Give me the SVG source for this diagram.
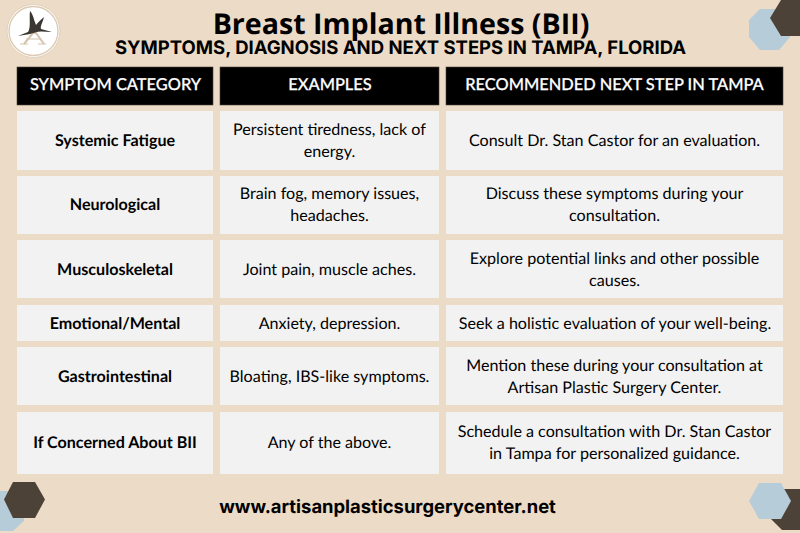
<svg xmlns="http://www.w3.org/2000/svg" width="800" height="533" viewBox="0 0 800 533">
<style>
text{text-rendering:geometricPrecision}
.t{font-family:Inter,"Liberation Sans",sans-serif;font-weight:700;fill:#000;text-anchor:middle}
.tt{font-family:"Open Sans","Liberation Sans",sans-serif;font-weight:700;font-size:28.6px;fill:#000;text-anchor:middle}
.h{font-family:Lato,"Liberation Sans",sans-serif;font-weight:500;font-size:16.4px;fill:#fff;text-anchor:middle;stroke:#fff;stroke-width:.25}
.c{font-family:Lato,"Liberation Sans",sans-serif;font-size:16.1px;fill:#000;text-anchor:middle}
.b{font-weight:700}
.hd{fill:#000;stroke:#4d4238;stroke-width:.6}
.cell{fill:#f2f2f2}
.dk{fill:#4d4238}
.bl{fill:#b6cdd9}
</style>
<rect width="800" height="533" fill="#ecdbc6"/>
<g id="decor">
<polygon class="bl" points="760,9 779,9 790,19 790,37 779,50 760,50 749,37 749,20"/>
<polygon class="dk" points="781,0 800,0 800,36 781,36 770,18"/>
<polygon class="bl" points="0,491 24,491 24,521 13,531 0,531"/>
<polygon class="dk" points="13,482 35,482 45,499.500 35,518 13,518 4,499.500"/>
<polygon class="dk" points="784,489 800,489 800,530 782,530 771,519"/>
<polygon class="bl" points="759,483 781,483 791,501 781,519 759,519 749,501"/>
</g>
<g id="logo">
<circle cx="33.500" cy="31" r="26.500" fill="#fff" stroke="#e0cfba" stroke-width="1"/>
<circle cx="33.500" cy="31" r="24.500" fill="none" stroke="#dccab2" stroke-width="1.400"/>
<path d="M24 44 L33 33 L36 33 L44 44" fill="none" stroke="#d4c3ac" stroke-width="2"/>
<path d="M26 39 L40 39 M20 44 L28 44 M38 44 L46 44" fill="none" stroke="#d4c3ac" stroke-width="1.200"/>
<path d="M30 11 C33 14 34 20 36 25 C38 22 41 20 44 17 C43 22 40 26 41 29 L52 32 L41 31.500 C37 31.500 33 33 30 34 L18 36 L28 32 C31 28 29 18 30 11Z" fill="#3a3632"/>
</g>
<g id="title">
<text class="tt" x="401" y="34">Breast Implant Illness (BII)</text>
<text class="t" x="400.500" y="54" font-size="18.500">SYMPTOMS, DIAGNOSIS AND NEXT STEPS IN TAMPA, FLORIDA</text>
</g>
<g id="header">
<rect class="hd" x="17" y="67" width="196" height="38"/>
<rect class="hd" x="220" y="67" width="219" height="38"/>
<rect class="hd" x="446" y="67" width="337" height="38"/>
<text class="h" x="115.500" y="90">SYMPTOM CATEGORY</text>
<text class="h" x="330" y="90">EXAMPLES</text>
<text class="h" x="614.500" y="90">RECOMMENDED NEXT STEP IN TAMPA</text>
</g>
<g id="row1">
<rect class="cell" x="17" y="111" width="196" height="59"/><rect class="cell" x="220" y="111" width="219" height="59"/><rect class="cell" x="446" y="111" width="337" height="59"/>
<text class="c b" x="115" y="146">Systemic Fatigue</text>
<text class="c" x="329.500" y="135">Persistent tiredness, lack of</text><text class="c" x="329.500" y="157">energy.</text>
<text class="c" x="614.500" y="146">Consult Dr. Stan Castor for an evaluation.</text>
</g>
<g id="row2">
<rect class="cell" x="17" y="176" width="196" height="58"/><rect class="cell" x="220" y="176" width="219" height="58"/><rect class="cell" x="446" y="176" width="337" height="58"/>
<text class="c b" x="115" y="210">Neurological</text>
<text class="c" x="329.500" y="199">Brain fog, memory issues,</text><text class="c" x="329.500" y="221">headaches.</text>
<text class="c" x="614.500" y="199">Discuss these symptoms during your</text><text class="c" x="614.500" y="221">consultation.</text>
</g>
<g id="row3">
<rect class="cell" x="17" y="240" width="196" height="58"/><rect class="cell" x="220" y="240" width="219" height="58"/><rect class="cell" x="446" y="240" width="337" height="58"/>
<text class="c b" x="115" y="275">Musculoskeletal</text>
<text class="c" x="329.500" y="275">Joint pain, muscle aches.</text>
<text class="c" x="614.500" y="264">Explore potential links and other possible</text><text class="c" x="614.500" y="286">causes.</text>
</g>
<g id="row4">
<rect class="cell" x="17" y="305" width="196" height="36"/><rect class="cell" x="220" y="305" width="219" height="36"/><rect class="cell" x="446" y="305" width="337" height="36"/>
<text class="c b" x="115" y="329">Emotional/Mental</text>
<text class="c" x="329.500" y="329">Anxiety, depression.</text>
<text class="c" x="615" y="329">Seek a holistic evaluation of your well-being.</text>
</g>
<g id="row5">
<rect class="cell" x="17" y="347" width="196" height="58"/><rect class="cell" x="220" y="347" width="219" height="58"/><rect class="cell" x="446" y="347" width="337" height="58"/>
<text class="c b" x="115" y="382">Gastrointestinal</text>
<text class="c" x="329.500" y="382">Bloating, IBS-like symptoms.</text>
<text class="c" x="614.500" y="371">Mention these during your consultation at</text><text class="c" x="614.500" y="393">Artisan Plastic Surgery Center.</text>
</g>
<g id="row6">
<rect class="cell" x="17" y="412" width="196" height="62"/><rect class="cell" x="220" y="412" width="219" height="62"/><rect class="cell" x="446" y="412" width="337" height="62"/>
<text class="c b" x="115" y="448">If Concerned About BII</text>
<text class="c" x="329.500" y="448">Any of the above.</text>
<text class="c" x="614.500" y="437">Schedule a consultation with Dr. Stan Castor</text><text class="c" x="614.500" y="459">in Tampa for personalized guidance.</text>
</g>
<g id="footer">
<text class="t" x="387.500" y="513" font-size="18.400">www.artisanplasticsurgerycenter.net</text>
</g>
</svg>
